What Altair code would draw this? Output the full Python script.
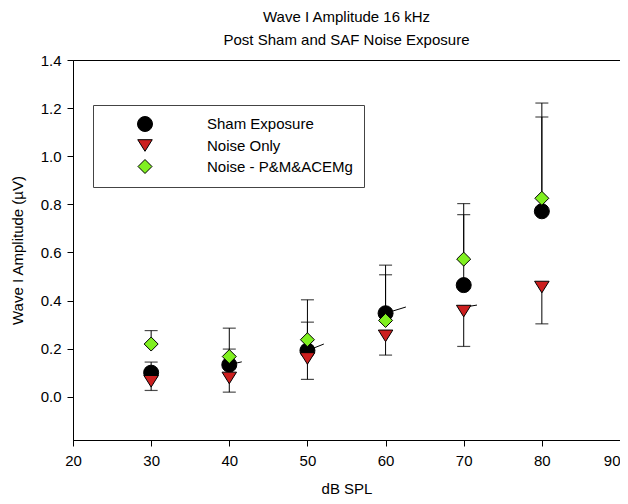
import altair as alt
import pandas as pd

# ---- data ----
db_spl = [30, 40, 50, 60, 70, 80]
series_names = ["Sham Exposure", "Noise Only", "Noise - P&M&ACEMg"]

sham_mean = [0.100, 0.133, 0.192, 0.347, 0.464, 0.771]
sham_err_end = [0.144, 0.198, 0.310, 0.547, 0.757, 1.163]

noise_mean = [0.064, 0.078, 0.159, 0.253, 0.356, 0.456]
noise_err_end = [0.026, 0.019, 0.072, 0.173, 0.209, 0.303]

pm_mean = [0.219, 0.167, 0.237, 0.317, 0.572, 0.825]
pm_err_end = [0.275, 0.285, 0.403, 0.507, 0.803, 1.221]

# short stray line fragments visible next to some markers
frag_x = [40, 50, 60, 70]
frag_y = [0.133, 0.192, 0.347, 0.372]
frag_x2 = [41.6, 52.1, 62.6, 71.7]
frag_y2 = [0.145, 0.219, 0.373, 0.381]

x_ticks = [20, 30, 40, 50, 60, 70, 80, 90]
y_ticks = [0.0, 0.2, 0.4, 0.6, 0.8, 1.0, 1.2, 1.4]

rows = []
for k, (name, means, ends) in enumerate([
    (series_names[0], sham_mean, sham_err_end),
    (series_names[1], noise_mean, noise_err_end),
    (series_names[2], pm_mean, pm_err_end),
]):
    for xv, m, e in zip(db_spl, means, ends):
        rows.append({"db": xv, "amp": m, "end": e, "series": name, "series_order": k})
df = pd.DataFrame(rows)
frag_df = pd.DataFrame({"x": frag_x, "y": frag_y, "x2": frag_x2, "y2": frag_y2})

FONT = "Liberation Sans"
tri_down = "M-1,-0.8L1,-0.8L0,0.8Z"

x_scale = alt.Scale(domain=[20, 90], nice=False, zero=False)
y_scale = alt.Scale(domain=[-0.18, 1.4], nice=False, zero=False)

x_enc = alt.X("db:Q", scale=x_scale,
              axis=alt.Axis(values=x_ticks, title="dB SPL", format="d",
                            labelAlign=alt.condition("datum.value == 90",
                                                     alt.value("right"), alt.value("center"))))

base = alt.Chart(df)

err_rule = base.mark_rule(color="black", strokeWidth=1).encode(
    x=x_enc,
    y=alt.Y("amp:Q", scale=y_scale),
    y2="end:Q",
)
err_cap = base.mark_tick(color="black", orient="horizontal", size=13, thickness=1.2).encode(
    x="db:Q",
    y=alt.Y("end:Q", scale=y_scale),
)
frags = alt.Chart(frag_df).mark_rule(color="black", strokeWidth=1).encode(
    x=alt.X("x:Q", scale=x_scale),
    y=alt.Y("y:Q", scale=y_scale),
    x2="x2:Q",
    y2="y2:Q",
)

points = base.mark_point(filled=True, stroke="black", strokeWidth=1, opacity=1).encode(
    x="db:Q",
    y=alt.Y("amp:Q", scale=y_scale,
            axis=alt.Axis(values=y_ticks, format=".1f", title="Wave I Amplitude (µV)")),
    color=alt.Color("series:N",
                    scale=alt.Scale(domain=series_names, range=["#000000", "#CC1F1F", "#80F020"]),
                    legend=alt.Legend(title=None, orient="none", legendX=20, legendY=45,
                                      strokeColor="#444444", fillColor="white", padding=11,
                                      symbolOffset=33, labelOffset=54, rowPadding=3.5,
                                      symbolSize=225, symbolStrokeColor="black",
                                      symbolStrokeWidth=1, labelFontSize=15, labelFont=FONT,
                                      labelColor="black")),
    shape=alt.Shape("series:N",
                    scale=alt.Scale(domain=series_names, range=["circle", tri_down, "diamond"])),
    size=alt.Size("series:N",
                  scale=alt.Scale(domain=series_names, range=[225, 196, 270]), legend=None),
    order=alt.Order("series_order:Q"),
)

chart = alt.layer(err_rule, err_cap, frags, points).properties(
    width=547, height=380,
    autosize=alt.AutoSizeParams(type="none"),
    padding={"left": 65, "top": 52, "right": 0, "bottom": 56},
    title=alt.TitleParams(["Wave I Amplitude 16 kHz", "Post Sham and SAF Noise Exposure"],
                          font=FONT, fontSize=15, fontWeight="normal", color="black",
                          anchor="middle", lineHeight=23, offset=5),
).configure_view(stroke="black", strokeWidth=1).configure_axis(
    grid=False, domainColor="black", tickColor="black", tickSize=6,
    labelFont=FONT, labelFontSize=15, labelColor="black",
    titleFont=FONT, titleFontSize=15, titleFontWeight="normal", titleColor="black",
).configure_axisX(labelPadding=7, titlePadding=13).configure_axisY(labelPadding=6, titlePadding=15)

chart.save("out.html", embed_options={"renderer": "svg", "actions": False})
